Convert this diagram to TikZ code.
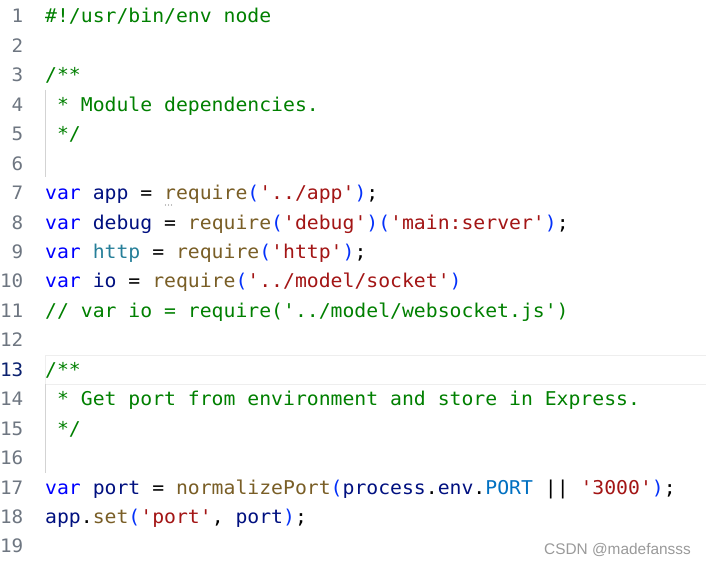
\documentclass[tikz,border=0pt]{standalone}
\usepackage{fontspec}
\setmonofont[FakeStretch=1.04]{DejaVu Sans Mono}
\newfontfamily\wmfont{Liberation Sans}
\definecolor{cmt}{HTML}{008000}
\definecolor{kwd}{HTML}{0000FF}
\definecolor{vrb}{HTML}{001080}
\definecolor{fnc}{HTML}{795E26}
\definecolor{str}{HTML}{A31515}
\definecolor{brk}{HTML}{0431FA}
\definecolor{typ}{HTML}{267F99}
\definecolor{cst}{HTML}{0070C1}
\definecolor{lngray}{HTML}{6E7681}
\definecolor{lnact}{HTML}{0B216F}
\definecolor{hlbord}{HTML}{EEEEEE}
\definecolor{guidec}{HTML}{D3D3D3}
\definecolor{wmgray}{HTML}{9A9A9A}
\newcommand\cm[1]{\textcolor{cmt}{#1}}
\newcommand\kw[1]{\textcolor{kwd}{#1}}
\newcommand\vr[1]{\textcolor{vrb}{#1}}
\newcommand\fn[1]{\textcolor{fnc}{#1}}
\newcommand\st[1]{\textcolor{str}{#1}}
\newcommand\br[1]{\textcolor{brk}{#1}}
\newcommand\ty[1]{\textcolor{typ}{#1}}
\newcommand\cn[1]{\textcolor{cst}{#1}}
\tikzset{
  codeline/.style={anchor=base west, inner sep=0pt, text=black, font=\ttfamily\fontsize{19}{19}\selectfont},
  lnum/.style={anchor=base east, inner sep=0pt, text=lngray, font=\ttfamily\fontsize{18.5}{18.5}\selectfont},
  hlbox/.style={draw=hlbord, line width=1pt},
  guide/.style={draw=guidec, line width=1pt},
  watermark/.style={anchor=base, inner sep=0pt, text=wmgray, font=\wmfont\fontsize{15.4}{15.4}\selectfont}
}
\begin{document}
\begin{tikzpicture}[x=1pt,y=-1pt]
\useasboundingbox (0,0) rectangle (706,564);
\fill[white] (0,0) rectangle (706,564);
% current line highlight and indent guides
\draw[hlbox] (45,355) rectangle (708,384);
\draw[guide] (45.5,90) -- (45.5,177);
\draw[guide] (45.5,384) -- (45.5,473);
% line numbers
\foreach \i in {1,...,12,14,15,16,17,18,19}{
  \node[lnum] (ln\i) at (23.5,{23+(\i-1)*29.44}) {\i};
}
\node[lnum,text=lnact] (ln13) at (23.5,{23+12*29.44}) {13};
% code
\newcommand\cx{45}
\node[codeline] (c1) at (\cx,{23+0*29.44}) {\cm{\#!/usr/bin/env node}};
\node[codeline] (c3) at (\cx,{23+2*29.44}) {\cm{/**}};
\node[codeline] (c4) at (\cx,{23+3*29.44}) {\cm{\ * Module dependencies.}};
\node[codeline] (c5) at (\cx,{23+4*29.44}) {\cm{\ */}};
\node[codeline] (c7) at (\cx,{23+6*29.44}) {\kw{var} \vr{app} = \fn{require}\br{(}\st{'../app'}\br{)};};
\node[codeline] (c8) at (\cx,{23+7*29.44}) {\kw{var} \vr{debug} = \fn{require}\br{(}\st{'debug'}\br{)}\br{(}\st{'main:server'}\br{)};};
\node[codeline] (c9) at (\cx,{23+8*29.44}) {\kw{var} \ty{http} = \fn{require}\br{(}\st{'http'}\br{)};};
\node[codeline] (c10) at (\cx,{23+9*29.44}) {\kw{var} \vr{io} = \fn{require}\br{(}\st{'../model/socket'}\br{)}};
\node[codeline] (c11) at (\cx,{23+10*29.44}) {\cm{// var io = require('../model/websocket.js')}};
\node[codeline] (c13) at (\cx,{23+12*29.44}) {\cm{/**}};
\node[codeline] (c14) at (\cx,{23+13*29.44}) {\cm{\ * Get port from environment and store in Express.}};
\node[codeline] (c15) at (\cx,{23+14*29.44}) {\cm{\ */}};
\node[codeline] (c17) at (\cx,{23+16*29.44}) {\kw{var} \vr{port} = \fn{normalizePort}\br{(}\vr{process}.\vr{env}.\cn{PORT} || \st{'3000'}\br{)};};
\node[codeline] (c18) at (\cx,{23+17*29.44}) {\vr{app}.\fn{set}\br{(}\st{'port'}, \vr{port}\br{)};};
% hint dots under require
\foreach \d in {165.5,168.5,171.5}{\fill[gray] (\d,205) circle (0.6);}
% watermark
\node[watermark] (wm) at (617.5,554) {CSDN @madefansss};
\end{tikzpicture}
\end{document}
